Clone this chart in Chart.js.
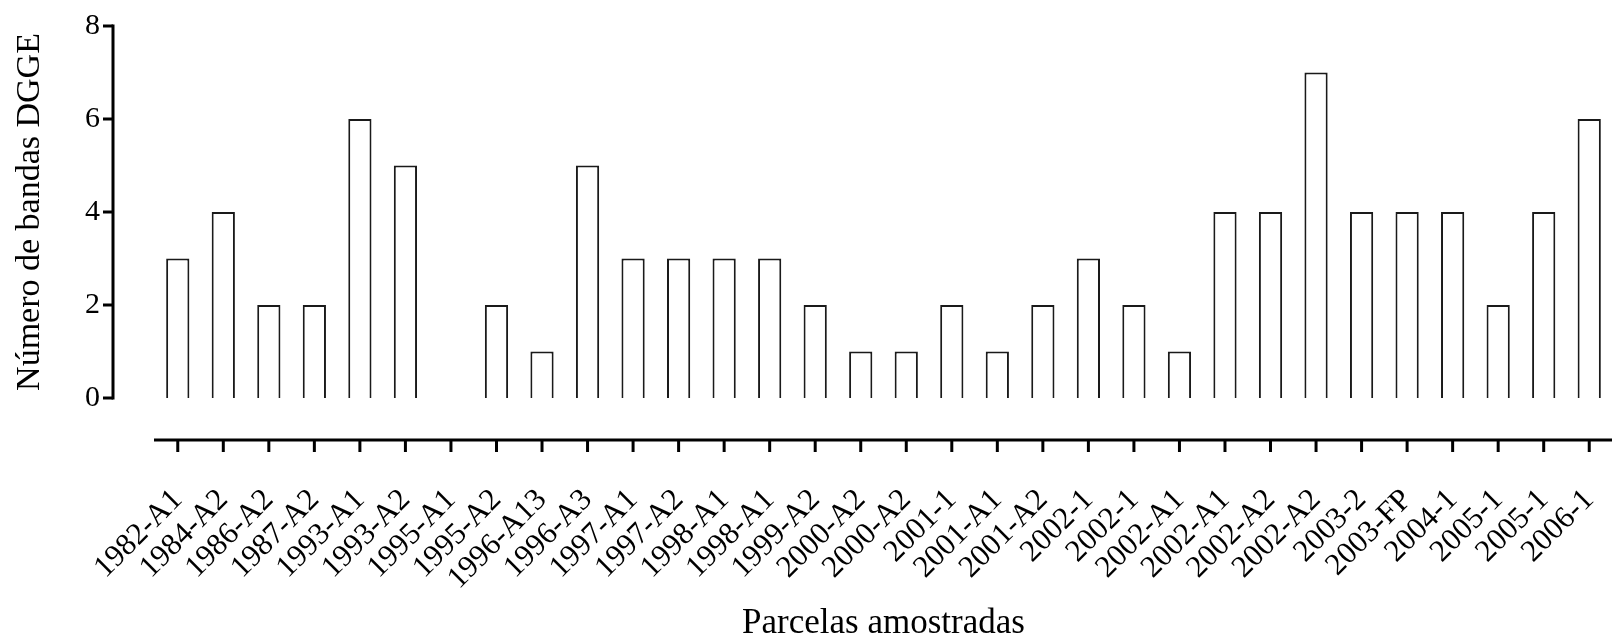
<!DOCTYPE html>
<html>
<head>
<meta charset="utf-8">
<script src="https://cdn.jsdelivr.net/npm/chart.js@4/dist/chart.umd.min.js"></script>
<style>
html,body{margin:0;padding:0;background:#fff;}
#wrap{width:1612px;height:642px;position:relative;}
</style>
</head>
<body>
<div id="wrap"><canvas id="c"></canvas></div>
<script>
const categories = ["1982-A1","1984-A2","1986-A2","1987-A2","1993-A1","1993-A2","1995-A1","1995-A2","1996-A13","1996-A3","1997-A1","1997-A2","1998-A1","1998-A1","1999-A2","2000-A2","2000-A2","2001-1","2001-A1","2001-A2","2002-1","2002-1","2002-A1","2002-A1","2002-A2","2002-A2","2003-2","2003-FP","2004-1","2005-1","2005-1","2006-1"];
const bandas = [3,4,2,2,6,5,0,2,1,5,3,3,3,3,2,1,1,2,1,2,3,2,1,4,4,7,4,4,4,2,4,6];
const yTicks = [0,2,4,6,8];
const yTitle = "Número de bandas DGGE";
const xTitle = "Parcelas amostradas";

const FONT = "'Liberation Serif', 'Times New Roman', serif";

const detachedAxes = {
  id: 'detachedAxes',
  afterDraw(chart) {
    const ctx = chart.ctx;
    const xs = chart.scales.x, ys = chart.scales.y;
    const area = chart.chartArea;
    ctx.save();
    ctx.strokeStyle = '#000';
    ctx.lineWidth = 3;
    ctx.lineCap = 'butt';
    const ax = area.left - 42;
    const yTop = ys.getPixelForValue(yTicks[yTicks.length - 1]);
    const yBot = ys.getPixelForValue(yTicks[0]);
    ctx.beginPath();
    ctx.moveTo(ax, yTop - 1.5);
    ctx.lineTo(ax, yBot + 1.5);
    ctx.stroke();
    yTicks.forEach(v => {
      const p = ys.getPixelForValue(v);
      ctx.beginPath();
      ctx.moveTo(ax - 10, p);
      ctx.lineTo(ax, p);
      ctx.stroke();
    });
    const ay = area.bottom + 42;
    ctx.beginPath();
    ctx.moveTo(area.left - 1, ay);
    ctx.lineTo(area.right, ay);
    ctx.stroke();
    categories.forEach((c, i) => {
      const p = xs.getPixelForValue(i);
      ctx.beginPath();
      ctx.moveTo(p, ay);
      ctx.lineTo(p, ay + 12);
      ctx.stroke();
    });
    ctx.restore();
  }
};

function zeroPad(scale) {
  scale.paddingLeft = 0; scale.paddingRight = 0;
  scale.paddingTop = 0; scale.paddingBottom = 0;
}

new Chart(document.getElementById('c'), {
  type: 'bar',
  data: {
    labels: categories,
    datasets: [{
      data: bandas,
      backgroundColor: '#ffffff',
      borderColor: '#1a1a1a',
      borderWidth: 2,
      barPercentage: 0.51,
      categoryPercentage: 1.0
    }]
  },
  options: {
    responsive: true,
    maintainAspectRatio: false,
    animation: false,
    devicePixelRatio: 1,
    layout: { padding: { top: 26, right: 0, left: 0, bottom: 0 } },
    plugins: { legend: { display: false }, tooltip: { enabled: false } },
    scales: {
      x: {
        grid: { display: false, drawTicks: false },
        border: { display: false },
        ticks: {
          autoSkip: false,
          maxRotation: 45,
          minRotation: 45,
          padding: 84,
          color: '#000',
          font: { family: FONT, size: 31 }
        },
        title: {
          display: true,
          text: xTitle,
          color: '#000',
          font: { family: FONT, size: 35, lineHeight: 1.05 },
          padding: { top: 0, bottom: 0 }
        },
        afterFit(scale) { scale.height = 244; zeroPad(scale); }
      },
      y: {
        min: 0,
        max: 8,
        grid: { display: false, drawTicks: false },
        border: { display: false },
        afterBuildTicks(scale) { scale.ticks = yTicks.map(v => ({ value: v })); },
        ticks: {
          padding: 55,
          color: '#000',
          font: { family: FONT, size: 30 }
        },
        title: {
          display: true,
          text: yTitle,
          color: '#000',
          font: { family: FONT, size: 34 },
          padding: { top: 10, bottom: 0 }
        },
        afterFit(scale) { scale.width = 155; zeroPad(scale); }
      }
    }
  },
  plugins: [detachedAxes]
});
</script>
</body>
</html>
